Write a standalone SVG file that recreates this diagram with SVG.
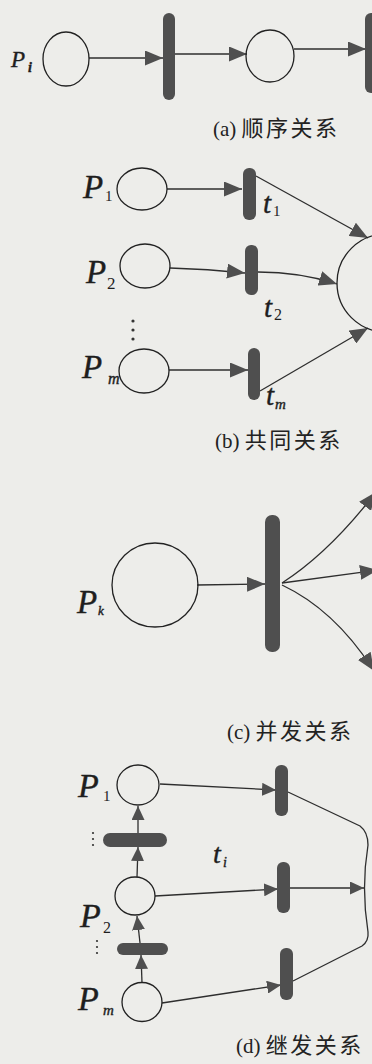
<svg xmlns="http://www.w3.org/2000/svg" width="372" height="1064" viewBox="0 0 372 1064">
<style>
.bg{fill:#ededea}
.pl{fill:none;stroke:#222;stroke-width:1.3}
.tr{fill:#4f4f4f}
.ln{fill:none;stroke:#2e2e2e;stroke-width:1.3}
.lbl{font-family:"Liberation Serif",serif;font-style:italic;fill:#1e1e1e;stroke:#1e1e1e;stroke-width:0.4}
.sub{font-family:"Liberation Serif",serif;fill:#1e1e1e}
.cap{font-family:"Liberation Serif","Noto Sans CJK SC",sans-serif;font-size:21px;fill:#222}
.dot{fill:#333}
</style>
<defs>
<marker id="ah" markerUnits="userSpaceOnUse" markerWidth="18" markerHeight="15" refX="18" refY="7.5" orient="auto"><path d="M0,0 L18,7.5 L0,15 Z" fill="#4f4f4f"/></marker>
<marker id="as" markerUnits="userSpaceOnUse" markerWidth="14" markerHeight="13" refX="14" refY="6.5" orient="auto"><path d="M0,0 L14,6.5 L0,13 Z" fill="#4f4f4f"/></marker>
</defs>
<rect class="bg" x="0" y="0" width="372" height="1064"/>

<g id="connectors">
<!-- (a) -->
<path class="ln" d="M89,58 L163,58" marker-end="url(#ah)"/>
<path class="ln" d="M175,54 L247,54" marker-end="url(#ah)"/>
<path class="ln" d="M294,49 L366,49" marker-end="url(#ah)"/>
<!-- (b) -->
<path class="ln" d="M167,189 L242,189" marker-end="url(#ah)"/>
<path class="ln" d="M256,176 L368,238" marker-end="url(#ah)"/>
<path class="ln" d="M170,268 Q208,269 245,273" marker-end="url(#ah)"/>
<path class="ln" d="M258,272 Q300,272 337,284" marker-end="url(#ah)"/>
<path class="ln" d="M169,370 L248,370" marker-end="url(#ah)"/>
<path class="ln" d="M260,391 L368,328" marker-end="url(#ah)"/>
<!-- (c) -->
<path class="ln" d="M197,585 L265,584" marker-end="url(#ah)"/>
<path class="ln" d="M282,583 Q330,552 376,492" marker-end="url(#ah)"/>
<path class="ln" d="M282,583 L378,570" marker-end="url(#ah)"/>
<path class="ln" d="M282,585 Q335,610 374,671" marker-end="url(#ah)"/>
<!-- (d) -->
<path class="ln" d="M160,784 L276,790" marker-end="url(#as)"/>
<path class="ln" d="M155,896 L278,889" marker-end="url(#as)"/>
<path class="ln" d="M162,1003 L281,985" marker-end="url(#as)"/>
<path class="ln" d="M290,888 L364,888" marker-end="url(#as)"/>
<path class="ln" d="M288,792 L360,826 Q368,832 368,845 Q361,888 368,932 Q369,941 362,946 L293,981"/>
<path class="ln" d="M137,877 L138,847" marker-end="url(#as)"/>
<path class="ln" d="M138,833 L138,806" marker-end="url(#as)"/>
<path class="ln" d="M142,983 L141,955" marker-end="url(#as)"/>
<path class="ln" d="M140,943 L137,916" marker-end="url(#as)"/>
</g>

<!-- (a) 顺序关系 -->
<g id="a_Pi"><ellipse class="pl" cx="66" cy="59" rx="23" ry="27"/>
<text class="lbl" x="11" y="67" font-size="23">P</text><text class="lbl" x="28" y="72" font-size="14" font-weight="bold">i</text></g>
<g id="a_t1"><rect class="tr" x="163" y="13" width="12" height="87" rx="6"/></g>
<g id="a_P2"><ellipse class="pl" cx="270" cy="56" rx="24" ry="26"/></g>
<g id="a_t2"><rect class="tr" x="365" y="13" width="14" height="80" rx="6"/></g>
<text class="cap" x="213" y="136">(a) <tspan font-size="22" letter-spacing="2.5">顺序关系</tspan></text>

<!-- (b) 共同关系 -->
<g id="b_P1"><ellipse class="pl" cx="142" cy="189" rx="25" ry="21"/>
<text class="lbl" x="83" y="198" font-size="33">P</text><text class="sub" x="105" y="201" font-size="15">1</text></g>
<g id="b_t1"><rect class="tr" x="243" y="168" width="13" height="52" rx="6"/>
<text class="lbl" x="263" y="213" font-size="29">t</text><text class="sub" x="273" y="216" font-size="15">1</text></g>
<g id="b_P2"><ellipse class="pl" cx="145" cy="266" rx="25" ry="22"/>
<text class="lbl" x="86" y="283" font-size="33">P</text><text class="sub" x="107" y="289" font-size="17">2</text></g>
<g id="b_t2"><rect class="tr" x="245" y="245" width="13" height="50" rx="6"/>
<text class="lbl" x="264" y="317" font-size="29">t</text><text class="sub" x="274" y="320" font-size="16">2</text></g>
<g id="b_dots"><circle class="dot" cx="133" cy="321" r="1.6"/><circle class="dot" cx="133" cy="330" r="1.6"/><circle class="dot" cx="133" cy="339" r="1.6"/></g>
<g id="b_Pm"><ellipse class="pl" cx="144" cy="371" rx="25" ry="22"/>
<text class="lbl" x="82" y="378" font-size="33">P</text><text class="lbl" x="108" y="384" font-size="16">m</text></g>
<g id="b_tm"><rect class="tr" x="248" y="348" width="12" height="52" rx="6"/>
<text class="lbl" x="266" y="405" font-size="29">t</text><text class="lbl" x="275" y="409" font-size="15">m</text></g>
<g id="b_Pout"><circle class="pl" cx="386" cy="283" r="49"/></g>
<text class="cap" x="215" y="448">(b) <tspan font-size="22" letter-spacing="2.5">共同关系</tspan></text>

<!-- (c) 并发关系 -->
<g id="c_Pk"><ellipse class="pl" cx="155" cy="585" rx="43" ry="42"/>
<text class="lbl" x="77" y="613" font-size="33">P</text><text class="lbl" x="98" y="615" font-size="13">k</text></g>
<g id="c_t"><rect class="tr" x="265" y="515" width="15" height="137" rx="7"/></g>
<text class="cap" x="227" y="739">(c) <tspan font-size="22" letter-spacing="2.5">并发关系</tspan></text>

<!-- (d) 继发关系 -->
<g id="d_P1"><ellipse class="pl" cx="138" cy="785" rx="21" ry="20"/>
<text class="lbl" x="78" y="797" font-size="34">P</text><text class="sub" x="103" y="801" font-size="15">1</text></g>
<g id="d_h1"><rect class="tr" x="103" y="833" width="64" height="14" rx="7"/></g>
<g id="d_dots1"><circle class="dot" cx="93" cy="833" r="1.1"/><circle class="dot" cx="93" cy="839" r="1.1"/><circle class="dot" cx="93" cy="845" r="1.1"/></g>
<g id="d_P2"><ellipse class="pl" cx="135" cy="896" rx="20" ry="19"/>
<text class="lbl" x="80" y="927" font-size="34">P</text><text class="sub" x="103" y="933" font-size="16">2</text></g>
<g id="d_h2"><rect class="tr" x="117" y="943" width="51" height="12" rx="6"/></g>
<g id="d_dots2"><circle class="dot" cx="97" cy="941" r="1.1"/><circle class="dot" cx="97" cy="947" r="1.1"/><circle class="dot" cx="97" cy="953" r="1.1"/></g>
<g id="d_Pm"><ellipse class="pl" cx="142" cy="1002" rx="20" ry="19.5"/>
<text class="lbl" x="78" y="1010" font-size="34">P</text><text class="lbl" x="103" y="1015" font-size="15">m</text></g>
<g id="d_ti"><text class="lbl" x="213" y="863" font-size="28">t</text><text class="lbl" x="223" y="867" font-size="14">i</text></g>
<g id="d_t1"><rect class="tr" x="275" y="765" width="13" height="51" rx="6"/></g>
<g id="d_t2"><rect class="tr" x="277" y="862" width="13" height="51" rx="6"/></g>
<g id="d_t3"><rect class="tr" x="280" y="948" width="13" height="52" rx="6"/></g>
<text class="cap" x="236" y="1053">(d) <tspan font-size="22" letter-spacing="2.5">继发关系</tspan></text>
</svg>
